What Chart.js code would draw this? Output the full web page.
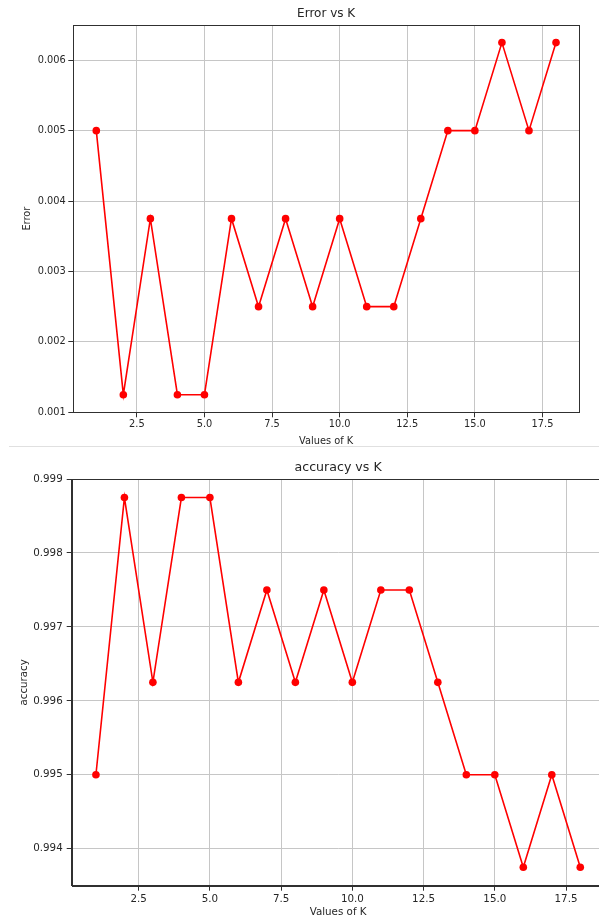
<!DOCTYPE html>
<html>
<head>
<meta charset="utf-8">
<script src="https://cdn.jsdelivr.net/npm/chart.js@4.4.1/dist/chart.umd.min.js"></script>
<style>
  html, body { margin: 0; padding: 0; background: #fff; overflow: hidden; width: 599px; height: 917px; }
  #top { position: absolute; left: 0; top: 0; }
  #bot { position: absolute; left: 0; top: 448px; }
  #sep { position: absolute; left: 9px; top: 446px; width: 590px; height: 1px; background: #e0e0e0; }
</style>
</head>
<body>
<canvas id="top" width="599" height="447"></canvas>
<div id="sep"></div>
<canvas id="bot" width="610" height="472"></canvas>
<script>
// ---- data ----
const kValues = [1, 2, 3, 4, 5, 6, 7, 8, 9, 10, 11, 12, 13, 14, 15, 16, 17, 18];
const errorValues = [0.005, 0.00125, 0.00375, 0.00125, 0.00125, 0.00375, 0.0025, 0.00375, 0.0025,
                     0.00375, 0.0025, 0.0025, 0.00375, 0.005, 0.005, 0.00625, 0.005, 0.00625];
const accuracyValues = [0.995, 0.99875, 0.99625, 0.99875, 0.99875, 0.99625, 0.9975, 0.99625, 0.9975,
                        0.99625, 0.9975, 0.9975, 0.99625, 0.995, 0.995, 0.99375, 0.995, 0.99375];
const xTicks = [2.5, 5.0, 7.5, 10.0, 12.5, 15.0, 17.5];
const errorTicks = [0.001, 0.002, 0.003, 0.004, 0.005, 0.006];
const accuracyTicks = [0.994, 0.995, 0.996, 0.997, 0.998, 0.999];

const FONT = "'DejaVu Sans', sans-serif";
const TXT = '#262626';
const GRID = '#c6c6c6';
const SPINE = '#303030';

const frame = {
  id: 'frame',
  afterDraw(chart) {
    const a = chart.chartArea, c = chart.ctx;
    c.save();
    c.strokeStyle = SPINE;
    c.lineWidth = 1;
    c.strokeRect(Math.round(a.left) + 0.5, Math.round(a.top) + 0.5,
                 Math.round(a.right - a.left), Math.round(a.bottom - a.top));
    c.restore();
  }
};

function makeChart(id, cfg) {
  const pts = kValues.map((k, i) => ({ x: k, y: cfg.values[i] }));
  return new Chart(document.getElementById(id), {
    type: 'line',
    data: { datasets: [{
      data: pts,
      borderColor: '#ff0000',
      backgroundColor: '#ff0000',
      borderWidth: 1.6,
      pointRadius: 3.8,
      pointHoverRadius: 3.8,
      pointBorderWidth: 0,
      pointBackgroundColor: '#ff0000',
      tension: 0,
      fill: false
    }]},
    options: {
      responsive: false,
      animation: false,
      devicePixelRatio: 1,
      layout: { padding: { left: 0, right: cfg.padRight, top: 0, bottom: 0 } },
      plugins: {
        legend: { display: false },
        tooltip: { enabled: false },
        title: {
          display: true, text: cfg.title, color: TXT, fullSize: false,
          font: { family: FONT, size: cfg.titleSize, weight: 'normal', lineHeight: 1.2 },
          padding: { top: cfg.titlePadTop, bottom: cfg.titlePadBottom }
        }
      },
      scales: {
        x: {
          type: 'linear', min: 0.15, max: 18.85,
          afterBuildTicks: s => { s.ticks = xTicks.map(v => ({ value: v })); },
          afterFit: s => { s.height = cfg.xHeight; },
          ticks: { color: TXT, font: { family: FONT, size: cfg.tickSize }, padding: cfg.xTickPad,
                   maxRotation: 0, autoSkip: false, callback: v => Number(v).toFixed(1) },
          grid: { color: GRID, lineWidth: 1, tickLength: 5, tickColor: SPINE, tickWidth: 1 },
          border: { color: SPINE, width: 1 },
          title: { display: true, text: 'Values of K', color: TXT,
                   font: { family: FONT, size: cfg.labelSize, lineHeight: 1.2 },
                   padding: { top: 0, bottom: cfg.xTitlePad } }
        },
        y: {
          type: 'linear', min: cfg.yMin, max: cfg.yMax,
          afterBuildTicks: s => { s.ticks = cfg.yTicks.map(v => ({ value: v })); },
          afterFit: s => { s.width = cfg.yWidth; },
          ticks: { color: TXT, font: { family: FONT, size: cfg.tickSize }, padding: cfg.yTickPad,
                   autoSkip: false, callback: v => Number(v).toFixed(3) },
          grid: { color: GRID, lineWidth: 1, tickLength: 5, tickColor: SPINE, tickWidth: 1 },
          border: { color: SPINE, width: 1 },
          title: { display: true, text: cfg.yLabel, color: TXT,
                   font: { family: FONT, size: cfg.labelSize, lineHeight: 1.2 },
                   padding: { top: cfg.yTitlePad, bottom: 0 } }
        }
      }
    },
    plugins: [frame]
  });
}

makeChart('top', {
  values: errorValues, yTicks: errorTicks, yMin: 0.001, yMax: 0.0065,
  title: 'Error vs K', yLabel: 'Error',
  titleSize: 12, titlePadTop: 7, titlePadBottom: 3.6,
  tickSize: 9.8, labelSize: 9.8, padRight: 20,
  xHeight: 34.7, yWidth: 73.3, xTickPad: 1.5, yTickPad: 2.5,
  xTitlePad: 0, yTitlePad: 22
});

makeChart('bot', {
  values: accuracyValues, yTicks: accuracyTicks, yMin: 0.9935, yMax: 0.999,
  title: 'accuracy vs K', yLabel: 'accuracy',
  titleSize: 12.6, titlePadTop: 12, titlePadBottom: 3.9,
  tickSize: 10.3, labelSize: 10.3, padRight: 5.5,
  xHeight: 34.3, yWidth: 71.7, xTickPad: 2.5, yTickPad: 4,
  xTitlePad: 1, yTitlePad: 18
});
</script>
</body>
</html>
